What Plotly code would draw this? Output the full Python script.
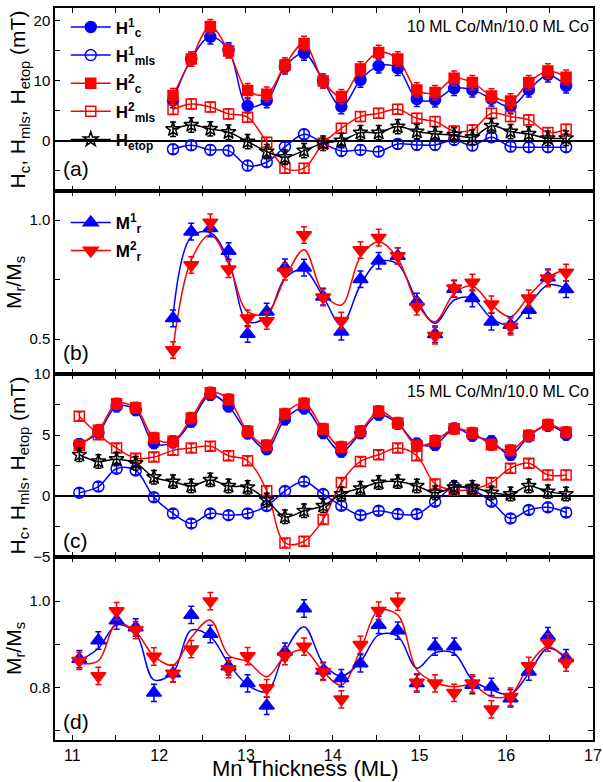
import plotly.graph_objects as go

# ---------------- data ----------------
thickness = [11.08, 11.30, 11.51, 11.73, 11.94, 12.16, 12.37, 12.59, 12.80, 13.02, 13.24, 13.45, 13.67,
             13.89, 14.10, 14.32, 14.53, 14.75, 14.97, 15.18, 15.40, 15.61, 15.83, 16.05, 16.26, 16.48, 16.69]
thick_a = thickness[5:]

# panel (a): 10 ML Co/Mn/10.0 ML Co
hc1_a = [6.67, 13.6, 17.3, 15.1, 5.78, 6.67, 12.3, 14.6, 9.95, 5.67, 10.1, 12.45, 12.05, 6.9, 6.78, 8.73, 8.45, 6.95, 5.67, 8.45, 10.95, 9.12]
hc2_a = [7.5, 13.6, 19.0, 14.95, 8.33, 7.73, 12.6, 16.2, 9.95, 7.33, 11.95, 14.7, 13.6, 8.45, 8.0, 10.4, 9.67, 7.45, 6.6, 9.67, 11.6, 10.55]
hmls1_a = [-1.44, -0.78, -1.55, -1.67, -4.17, -3.6, -1.05, 1.06, -0.45, -1.72, -1.55, -1.83, -0.56, -0.72, -0.72, 0.11, -0.83, 0.56, -1.0, -1.1, -1.1, -1.1]
hmls2_a = [5.2, 6.1, 5.6, 4.45, 3.9, -0.27, -4.6, -4.6, -0.45, 2.05, 4.0, 4.55, 5.22, 3.72, 3.17, 1.61, 1.78, 4.55, 4.0, 3.45, 1.33, 1.89]
hetop_a = [1.9, 2.6, 1.95, 1.4, -0.17, -1.83, -2.77, -1.67, -0.45, 0.0, 1.33, 1.33, 2.33, 1.5, 1.11, 0.95, 0.56, 2.45, 1.5, 1.11, 0.39, 0.39]

# panel (b)
mr1_b = [0.587, 0.951, 0.965, 0.870, 0.521, 0.615, 0.801, 0.80, 0.678, 0.531, 0.751, 0.829, 0.849, 0.657, 0.52, 0.71, 0.671, 0.573, 0.559, 0.622, 0.759, 0.709]
mr2_b = [0.454, 0.811, 0.99, 0.793, 0.587, 0.576, 0.783, 0.937, 0.675, 0.577, 0.874, 0.926, 0.849, 0.636, 0.514, 0.713, 0.737, 0.646, 0.552, 0.671, 0.755, 0.779]
fit1_b = [0.597, 0.93, 0.947, 0.83, 0.573, 0.594, 0.755, 0.79, 0.678, 0.559, 0.727, 0.825, 0.815, 0.664, 0.566, 0.664, 0.671, 0.587, 0.559, 0.643, 0.727, 0.713]
fit2_b = [0.46, 0.832, 0.937, 0.818, 0.615, 0.608, 0.755, 0.875, 0.692, 0.643, 0.846, 0.909, 0.839, 0.65, 0.573, 0.692, 0.723, 0.643, 0.594, 0.681, 0.759, 0.793]

# panel (c): 15 ML Co/Mn/10.0 ML Co
hc1_c = [4.25, 5.2, 7.35, 7.05, 4.34, 4.4, 6.1, 8.3, 7.36, 5.15, 3.85, 6.3, 7.2, 5.17, 3.65, 5.17, 6.68, 5.93, 4.29, 4.2, 5.52, 4.95, 4.48, 3.38, 4.89, 5.77, 5.03]
hc2_c = [4.15, 5.38, 7.56, 7.23, 4.76, 4.48, 6.4, 8.47, 7.91, 5.3, 4.15, 6.73, 7.58, 5.5, 4.01, 5.3, 6.95, 5.99, 4.12, 4.53, 5.52, 5.17, 4.2, 3.74, 4.95, 5.85, 5.22]
hmls1_c = [0.27, 0.77, 2.23, 2.09, -0.11, -1.43, -2.25, -1.43, -1.57, -1.43, -0.82, 0.41, 1.18, 0.16, -0.8, -1.57, -1.21, -1.48, -1.48, -0.47, 0.77, 0.49, -0.47, -1.84, -1.15, -0.93, -1.35]
hmls2_c = [6.54, 5.03, 3.93, 3.1, 3.19, 3.74, 3.93, 4.07, 3.3, 2.89, 0.44, -3.85, -3.71, -1.92, 1.1, 2.83, 3.38, 3.93, 3.3, 0.99, 0.49, 0.55, 1.1, 2.28, 2.69, 1.73, 1.73]
hetop_c = [3.38, 2.83, 3.02, 2.69, 1.54, 1.18, 0.82, 1.32, 0.82, 0.71, -0.33, -1.7, -1.21, -0.8, 0.16, 0.63, 1.1, 1.18, 0.82, 0.27, 0.71, 0.71, 0.27, 0.16, 0.82, 0.36, 0.16]

# panel (d)
mr1_d = [0.866, 0.909, 0.955, 0.939, 0.788, 0.833, 0.968, 0.924, 0.849, 0.81, 0.758, 0.883, 0.983, 0.839, 0.822, 0.856, 0.945, 0.932, 0.81, 0.895, 0.895, 0.806, 0.802, 0.775, 0.837, 0.919, 0.868]
mr2_d = [0.862, 0.827, 0.977, 0.933, 0.872, 0.833, 0.889, 1.0, 0.843, 0.873, 0.799, 0.873, 0.895, 0.837, 0.773, 0.899, 0.978, 0.999, 0.812, 0.81, 0.788, 0.81, 0.75, 0.779, 0.85, 0.904, 0.858]
fit1_d = [0.862, 0.891, 0.945, 0.926, 0.818, 0.835, 0.933, 0.918, 0.856, 0.806, 0.791, 0.883, 0.941, 0.856, 0.827, 0.86, 0.922, 0.919, 0.845, 0.881, 0.879, 0.818, 0.795, 0.785, 0.833, 0.891, 0.87]
fit2_d = [0.856, 0.862, 0.949, 0.929, 0.873, 0.852, 0.916, 0.956, 0.875, 0.86, 0.825, 0.872, 0.887, 0.837, 0.806, 0.887, 0.978, 0.968, 0.841, 0.812, 0.802, 0.806, 0.779, 0.783, 0.852, 0.895, 0.864]

BLUE = "#0000ff"
RED = "#ff0000"
BLACK = "#000000"
FONT = "Liberation Sans, Arial, sans-serif"

fig = go.Figure()


def err(v, color):
    return dict(type="constant", value=v, color=color, thickness=1.5, width=3)


def series(x, y, color, symbol, size, e, xa, ya, name=None, legend=None, spline=True, group=None):
    mode = "lines+markers" if spline else "markers"
    fig.add_trace(go.Scatter(
        x=x, y=y, mode=mode, name=name or "",
        line=dict(color=color, width=1.5, shape="spline", smoothing=1.0),
        marker=dict(symbol=symbol, size=size, color=color,
                    line=dict(color=color, width=1.5)),
        error_y=err(e, color),
        xaxis=xa, yaxis=ya, legendgroup=group,
        showlegend=legend is not None, legend=legend or "legend",
    ))


def fitline(x, y, color, xa, ya):
    fig.add_trace(go.Scatter(x=x, y=y, mode="lines",
                             line=dict(color=color, width=1.5, shape="spline", smoothing=1.0),
                             xaxis=xa, yaxis=ya, showlegend=False, hoverinfo="skip"))


def legend_only(name, color, symbol, size, legend, group):
    fig.add_trace(go.Scatter(x=[None], y=[None], mode="lines+markers", name=name,
                             line=dict(color=color, width=1.5),
                             marker=dict(symbol=symbol, size=size, color=color,
                                         line=dict(color=color, width=1.5)),
                             xaxis="x2", yaxis="y2", legend=legend, legendgroup=group))


# panel (a)
series(thick_a, hc1_a, BLUE, "circle", 11, 1.2, "x", "y", "<b>H<sup>1</sup><sub>c</sub></b>", "legend", group="g1")
series(thick_a, hmls1_a, BLUE, "circle-open", 11, 0.8, "x", "y", "<b>H<sup>1</sup><sub>mls</sub></b>", "legend", group="g2")
series(thick_a, hc2_a, RED, "square", 10, 1.2, "x", "y", "<b>H<sup>2</sup><sub>c</sub></b>", "legend", group="g3")
series(thick_a, hmls2_a, RED, "square-open", 10, 0.8, "x", "y", "<b>H<sup>2</sup><sub>mls</sub></b>", "legend", group="g4")
series(thick_a, hetop_a, BLACK, "star-open", 11, 1.2, "x", "y", "<b>H<sub>etop</sub></b>", "legend", group="g5")

# panel (b)
fitline(thick_a, fit1_b, BLUE, "x2", "y2")
fitline(thick_a, fit2_b, RED, "x2", "y2")
series(thick_a, mr1_b, BLUE, "triangle-up", 13, 0.035, "x2", "y2", spline=False)
series(thick_a, mr2_b, RED, "triangle-down", 13, 0.035, "x2", "y2", spline=False)
legend_only("<b>M<sup>1</sup><sub>r</sub></b>", BLUE, "triangle-up", 13, "legend2", "m1")
legend_only("<b>M<sup>2</sup><sub>r</sub></b>", RED, "triangle-down", 13, "legend2", "m2")

# panel (c)
series(thickness, hc1_c, BLUE, "circle", 11, 0.45, "x3", "y3")
series(thickness, hmls1_c, BLUE, "circle-open", 11, 0.35, "x3", "y3")
series(thickness, hc2_c, RED, "square", 10, 0.45, "x3", "y3")
series(thickness, hmls2_c, RED, "square-open", 10, 0.35, "x3", "y3")
series(thickness, hetop_c, BLACK, "star-open", 11, 0.55, "x3", "y3")

# panel (d)
fitline(thickness, fit1_d, BLUE, "x4", "y4")
fitline(thickness, fit2_d, RED, "x4", "y4")
series(thickness, mr1_d, BLUE, "triangle-up", 13, 0.02, "x4", "y4", spline=False)
series(thickness, mr2_d, RED, "triangle-down", 13, 0.02, "x4", "y4", spline=False)

axis_common = dict(showline=True, linecolor=BLACK, linewidth=1.5, mirror="ticks",
                   ticks="inside", ticklen=5, tickwidth=1.2, tickcolor=BLACK,
                   showgrid=False, zeroline=False, automargin=False,
                   tickfont=dict(family=FONT, size=15, color=BLACK))

xcommon = dict(axis_common, range=[10.8, 17], tick0=11, dtick=1,
               minor=dict(dtick=0.5, ticks="inside", ticklen=5, tickcolor=BLACK, showgrid=False))

ytitle_font = dict(family=FONT, size=21, color=BLACK)

fig.update_layout(
    width=603, height=782,
    margin=dict(l=55, r=10, t=8, b=42),
    paper_bgcolor="white", plot_bgcolor="white",
    font=dict(family=FONT, color=BLACK),
    xaxis=dict(xcommon, anchor="y", showticklabels=False, matches="x4"),
    xaxis2=dict(xcommon, anchor="y2", showticklabels=False, matches="x4"),
    xaxis3=dict(xcommon, anchor="y3", showticklabels=False, matches="x4"),
    xaxis4=dict(xcommon, anchor="y4", showticklabels=True, ticklabelstandoff=0,
                tickfont=dict(family=FONT, size=16, color=BLACK)),
    yaxis=dict(axis_common, domain=[0.75, 1.0], anchor="x", range=[-8.4, 22.1], tick0=0, dtick=10,
               minor=dict(dtick=5, ticks="inside", ticklen=5, tickcolor=BLACK, showgrid=False),
               zeroline=True, zerolinecolor=BLACK, zerolinewidth=1.5,
               title=dict(text="H<sub>c</sub>, H<sub>mls</sub>, H<sub>etop</sub> (mT)",
                          font=ytitle_font, standoff=2)),
    yaxis2=dict(axis_common, domain=[0.5, 0.75], anchor="x2", range=[0.353, 1.122], tick0=0, dtick=0.5,
                tickformat=".1f",
                minor=dict(dtick=0.25, ticks="inside", ticklen=5, tickcolor=BLACK, showgrid=False),
                title=dict(text="M<sub>r</sub>/M<sub>s</sub>", font=ytitle_font, standoff=2)),
    yaxis3=dict(axis_common, domain=[0.25, 0.5], anchor="x3", range=[-5, 10], tick0=0, dtick=5,
                minor=dict(dtick=2.5, ticks="inside", ticklen=5, tickcolor=BLACK, showgrid=False),
                zeroline=True, zerolinecolor=BLACK, zerolinewidth=1.5,
                title=dict(text="H<sub>c</sub>, H<sub>mls</sub>, H<sub>etop</sub> (mT)",
                           font=ytitle_font, standoff=2)),
    yaxis4=dict(axis_common, domain=[0.0, 0.25], anchor="x4", range=[0.679, 1.102], tick0=0, dtick=0.2,
                tickformat=".1f",
                minor=dict(dtick=0.1, ticks="inside", ticklen=5, tickcolor=BLACK, showgrid=False),
                title=dict(text="M<sub>r</sub>/M<sub>s</sub>", font=ytitle_font, standoff=2)),
    legend=dict(x=0.02, y=0.998, xanchor="left", yanchor="top", bgcolor="rgba(0,0,0,0)",
                font=dict(family=FONT, size=17, color=BLACK), itemwidth=40, tracegroupgap=3),
    legend2=dict(x=0.02, y=0.731, xanchor="left", yanchor="top", bgcolor="rgba(0,0,0,0)",
                 font=dict(family=FONT, size=17, color=BLACK), itemwidth=40, tracegroupgap=3),
    showlegend=True,
)

labels = [("(a)", 0.781), ("(b)", 0.529), ("(c)", 0.273), ("(d)", 0.025)]
for txt, yy in labels:
    fig.add_annotation(text=txt, x=0.011, y=yy, xref="paper", yref="paper",
                       xanchor="left", yanchor="middle", showarrow=False,
                       font=dict(family=FONT, size=21, color=BLACK))

fig.add_annotation(text="10 ML Co/Mn/10.0 ML Co", x=0.997, y=0.975, xref="paper", yref="paper",
                   xanchor="right", yanchor="middle", showarrow=False,
                   font=dict(family=FONT, size=16, color=BLACK))
fig.add_annotation(text="15 ML Co/Mn/10.0 ML Co", x=0.997, y=0.476, xref="paper", yref="paper",
                   xanchor="right", yanchor="middle", showarrow=False,
                   font=dict(family=FONT, size=16, color=BLACK))
fig.add_annotation(text="Mn Thickness (ML)", x=0.465, y=-0.0395, xref="paper", yref="paper",
                   xanchor="center", yanchor="middle", showarrow=False,
                   font=dict(family=FONT, size=22, color=BLACK))

fig.write_html("out.html", config={"displayModeBar": False},
               post_script="document.body.style.margin='0';document.body.style.padding='0';")
